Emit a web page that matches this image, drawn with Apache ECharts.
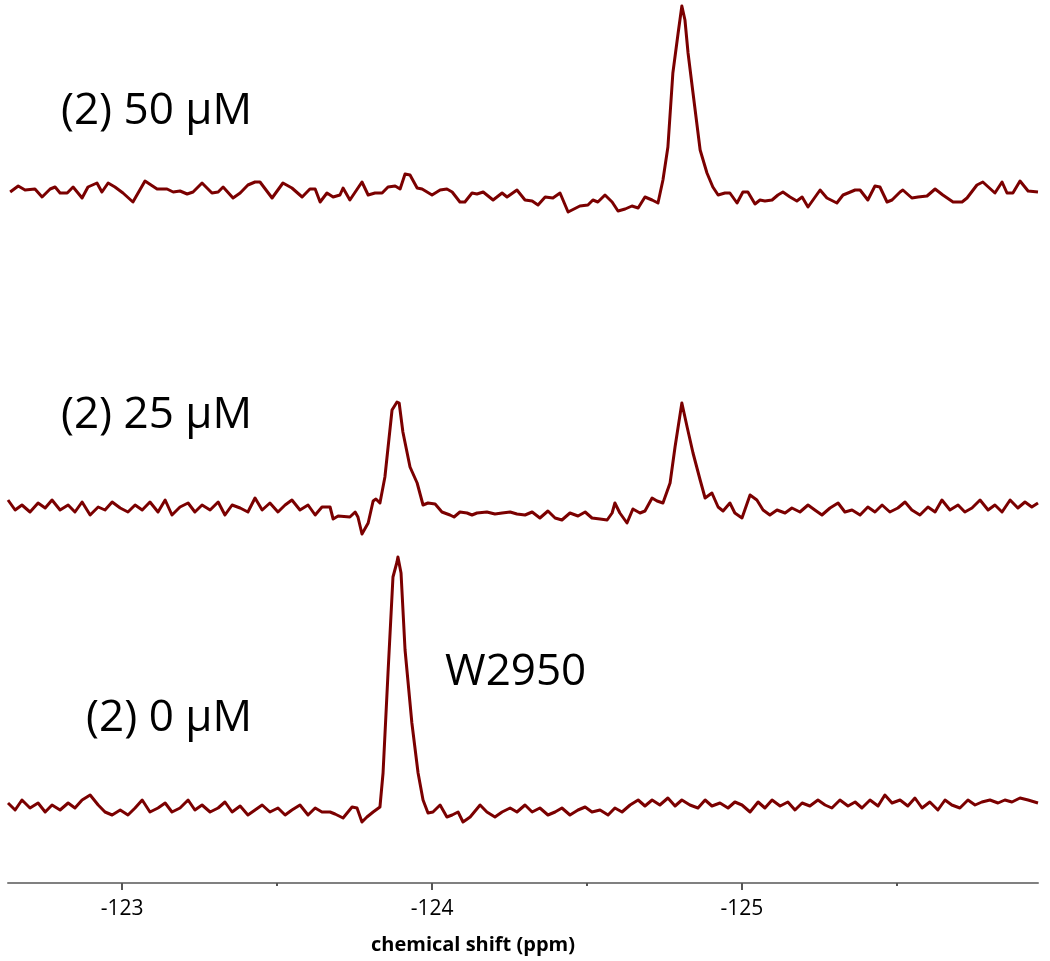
<!DOCTYPE html>
<html>
<head>
<meta charset="utf-8">
<script src="https://cdn.jsdelivr.net/npm/echarts@6/dist/echarts.min.js"></script>
<style>
html,body{margin:0;padding:0;background:#fff}
#chart{width:1050px;height:961px}
</style>
</head>
<body>
<div id="chart"></div>
<script>
// tick positions on the shift axis (ppm)
const majorTicks = [-123, -124, -125];
const minorTicks = [-123.5, -124.5, -125.5];

// 19F spectra, [shift ppm, intensity]
const spec50 = [[-122.639,0],[-122.665,6],[-122.687,2],[-122.719,3],[-122.742,-5],[-122.768,3],[-122.784,5],[-122.800,-1],[-122.823,-1],[-122.842,5],[-122.871,-6],[-122.890,5],[-122.919,9],[-122.935,0],[-122.955,9],[-122.977,5],[-123.003,-1],[-123.035,-10],[-123.074,11],[-123.113,3],[-123.145,3],[-123.165,0],[-123.187,1],[-123.210,-2],[-123.229,0],[-123.258,9],[-123.290,-1],[-123.310,0],[-123.326,5],[-123.358,-6],[-123.381,-1],[-123.406,7],[-123.429,10],[-123.445,10],[-123.484,-6],[-123.519,9],[-123.548,4],[-123.581,-5],[-123.606,3],[-123.623,3],[-123.639,-10],[-123.661,-1],[-123.681,-5],[-123.703,-3],[-123.713,4],[-123.735,-8],[-123.774,10],[-123.794,-3],[-123.816,-1],[-123.839,-1],[-123.858,5],[-123.881,6],[-123.897,3],[-123.913,18],[-123.929,17],[-123.952,4],[-123.968,3],[-124.000,-3],[-124.026,2],[-124.048,3],[-124.065,0],[-124.090,-10],[-124.106,-10],[-124.129,-1],[-124.145,-2],[-124.165,0],[-124.197,-8],[-124.226,-1],[-124.242,-5],[-124.274,2],[-124.300,-8],[-124.323,-9],[-124.342,-13],[-124.365,-5],[-124.390,-6],[-124.413,-1],[-124.439,-20],[-124.477,-14],[-124.503,-13],[-124.519,-8],[-124.535,-10],[-124.558,-3],[-124.581,-10],[-124.600,-19],[-124.623,-17],[-124.645,-14],[-124.665,-16],[-124.687,-5],[-124.710,-8],[-124.729,-11],[-124.745,12],[-124.761,45],[-124.777,119],[-124.794,159],[-124.806,186],[-124.816,172],[-124.826,139],[-124.842,99],[-124.865,42],[-124.887,19],[-124.906,5],[-124.923,-3],[-124.945,-1],[-124.961,-1],[-124.984,-11],[-125.003,0],[-125.019,0],[-125.042,-12],[-125.058,-8],[-125.074,-9],[-125.097,-8],[-125.116,-3],[-125.132,0],[-125.155,-5],[-125.177,-9],[-125.194,-5],[-125.213,-15],[-125.252,2],[-125.274,-6],[-125.306,-11],[-125.326,-3],[-125.342,-1],[-125.365,2],[-125.381,2],[-125.406,-8],[-125.429,6],[-125.445,5],[-125.468,-10],[-125.484,-8],[-125.510,0],[-125.519,2],[-125.548,-6],[-125.568,-5],[-125.597,-4],[-125.623,3],[-125.648,-3],[-125.681,-10],[-125.710,-10],[-125.726,-6],[-125.758,7],[-125.777,10],[-125.816,-1],[-125.839,10],[-125.855,-1],[-125.874,-1],[-125.897,11],[-125.923,1],[-125.955,0]];

const spec25 = [[-122.632,10],[-122.655,0],[-122.677,5],[-122.703,-2],[-122.729,7],[-122.752,2],[-122.774,10],[-122.800,0],[-122.826,5],[-122.848,-2],[-122.871,8],[-122.897,-5],[-122.923,3],[-122.945,0],[-122.968,8],[-122.994,2],[-123.019,-2],[-123.042,5],[-123.065,0],[-123.090,8],[-123.116,-2],[-123.139,10],[-123.161,-5],[-123.187,3],[-123.213,7],[-123.235,-2],[-123.258,5],[-123.284,0],[-123.310,8],[-123.332,-5],[-123.355,5],[-123.381,2],[-123.406,-2],[-123.429,12],[-123.452,0],[-123.477,7],[-123.503,-2],[-123.526,5],[-123.548,10],[-123.574,0],[-123.600,5],[-123.623,-5],[-123.645,3],[-123.671,3],[-123.681,-9],[-123.697,-6],[-123.735,-7],[-123.752,-2],[-123.761,-7],[-123.774,-24],[-123.794,-13],[-123.810,9],[-123.819,11],[-123.832,7],[-123.848,33],[-123.871,100],[-123.887,108],[-123.894,107],[-123.906,78],[-123.929,43],[-123.952,27],[-123.971,5],[-123.987,7],[-124.010,6],[-124.032,-2],[-124.058,-5],[-124.071,-7],[-124.090,-2],[-124.113,-3],[-124.129,-5],[-124.145,-3],[-124.177,-2],[-124.203,-4],[-124.226,-3],[-124.252,-2],[-124.274,-4],[-124.300,-5],[-124.323,-2],[-124.348,-8],[-124.374,-1],[-124.397,-8],[-124.419,-10],[-124.445,-3],[-124.471,-6],[-124.494,-2],[-124.516,-8],[-124.542,-9],[-124.565,-10],[-124.581,-3],[-124.590,7],[-124.606,-3],[-124.629,-13],[-124.648,1],[-124.671,-3],[-124.687,-1],[-124.710,12],[-124.726,9],[-124.745,7],[-124.768,27],[-124.784,63],[-124.806,107],[-124.823,83],[-124.842,57],[-124.865,30],[-124.881,12],[-124.903,17],[-124.923,3],[-124.939,-1],[-124.961,7],[-124.977,-3],[-125.000,-8],[-125.026,15],[-125.048,10],[-125.068,0],[-125.090,-5],[-125.113,0],[-125.139,-3],[-125.161,2],[-125.187,-2],[-125.213,5],[-125.235,0],[-125.258,-5],[-125.284,2],[-125.310,7],[-125.332,-2],[-125.355,0],[-125.381,-5],[-125.406,3],[-125.429,-2],[-125.452,5],[-125.477,-2],[-125.503,2],[-125.526,8],[-125.548,0],[-125.574,-5],[-125.600,3],[-125.623,-2],[-125.645,10],[-125.671,0],[-125.697,5],[-125.719,-2],[-125.742,2],[-125.768,10],[-125.794,0],[-125.816,5],[-125.839,-2],[-125.865,10],[-125.890,2],[-125.913,8],[-125.935,3],[-125.955,7]];

const spec0 = [[-122.632,9],[-122.655,2],[-122.677,12],[-122.703,4],[-122.729,9],[-122.752,0],[-122.774,7],[-122.800,2],[-122.826,9],[-122.848,4],[-122.871,12],[-122.897,17],[-122.923,7],[-122.945,0],[-122.968,-3],[-122.994,2],[-123.019,-3],[-123.042,4],[-123.065,12],[-123.090,0],[-123.116,4],[-123.139,9],[-123.161,0],[-123.187,4],[-123.213,12],[-123.235,2],[-123.258,7],[-123.284,0],[-123.310,4],[-123.332,10],[-123.355,0],[-123.381,6],[-123.406,-3],[-123.429,2],[-123.452,7],[-123.477,0],[-123.503,4],[-123.526,-3],[-123.548,2],[-123.574,7],[-123.600,-3],[-123.623,4],[-123.645,0],[-123.671,0],[-123.687,-2],[-123.713,-6],[-123.742,5],[-123.758,4],[-123.774,-10],[-123.790,-5],[-123.810,0],[-123.832,5],[-123.842,39],[-123.858,139],[-123.874,235],[-123.887,250],[-123.890,255],[-123.900,239],[-123.913,162],[-123.935,89],[-123.955,39],[-123.971,12],[-123.987,-1],[-124.003,0],[-124.026,7],[-124.048,-5],[-124.065,-3],[-124.084,0],[-124.100,-10],[-124.123,-5],[-124.155,7],[-124.177,0],[-124.203,-5],[-124.226,0],[-124.252,4],[-124.274,0],[-124.300,7],[-124.323,0],[-124.348,4],[-124.374,-3],[-124.397,0],[-124.419,4],[-124.445,-3],[-124.471,2],[-124.494,5],[-124.516,0],[-124.542,2],[-124.568,-3],[-124.590,4],[-124.613,0],[-124.639,7],[-124.665,12],[-124.687,6],[-124.710,12],[-124.735,7],[-124.761,14],[-124.784,6],[-124.806,12],[-124.832,7],[-124.858,4],[-124.881,12],[-124.903,6],[-124.929,9],[-124.955,4],[-124.977,10],[-125.000,7],[-125.026,0],[-125.052,10],[-125.074,4],[-125.097,12],[-125.123,6],[-125.148,10],[-125.171,2],[-125.194,9],[-125.219,6],[-125.245,12],[-125.268,7],[-125.290,4],[-125.316,12],[-125.342,6],[-125.365,10],[-125.387,4],[-125.413,12],[-125.439,6],[-125.461,17],[-125.484,9],[-125.510,12],[-125.535,6],[-125.558,14],[-125.581,4],[-125.606,10],[-125.632,2],[-125.655,12],[-125.677,7],[-125.703,4],[-125.729,12],[-125.752,7],[-125.774,10],[-125.800,12],[-125.826,9],[-125.848,12],[-125.871,10],[-125.897,14],[-125.923,12],[-125.955,9]];

const traceNames = ['(2) 50 µM', '(2) 25 µM', '(2) 0 µM'];
const peakLabel = 'W2950';

const lineColor = '#7b0000';
const xMin = -125.955, xMax = -122.632;

const chart = echarts.init(document.getElementById('chart'));

function hiddenX(grid) {
    return {
        type: 'value', gridIndex: grid, min: xMin, max: xMax, inverse: true,
        show: false
    };
}

const option = {
    animation: false,
    backgroundColor: '#ffffff',
    grid: [
        {left: 8, right: 12, top: 0, height: 240},
        {left: 8, right: 12, top: 380, height: 160},
        {left: 8, right: 12, top: 540, height: 343}
    ],
    xAxis: [
        hiddenX(0),
        hiddenX(1),
        {
            type: 'value', gridIndex: 2, min: xMin, max: xMax, inverse: true,
            position: 'bottom',
            name: 'chemical shift (ppm)',
            nameLocation: 'middle',
            nameGap: 52,
            nameTextStyle: {
                fontFamily: 'Open Sans', fontWeight: 'bold', fontSize: 20, color: '#000',
                padding: [0, 100, 0, 0]
            },
            axisLine: {onZero: false, lineStyle: {color: '#808080', width: 2}},
            axisTick: {show: true, customValues: majorTicks, length: 7, lineStyle: {color: '#555', width: 2}},
            axisLabel: {
                customValues: majorTicks, margin: 16,
                fontFamily: 'Open Sans', fontSize: 21, color: '#000'
            },
            splitLine: {show: false}
        },
        {
            // minor ticks
            type: 'value', gridIndex: 2, min: xMin, max: xMax, inverse: true,
            position: 'bottom',
            axisLine: {show: false, onZero: false},
            axisTick: {show: true, customValues: minorTicks, length: 3, lineStyle: {color: '#555', width: 2}},
            axisLabel: {show: false},
            splitLine: {show: false}
        }
    ],
    yAxis: [
        {type: 'value', gridIndex: 0, min: -48, max: 192, show: false},
        {type: 'value', gridIndex: 1, min: -30, max: 130, show: false},
        {type: 'value', gridIndex: 2, min: -71, max: 272, show: false}
    ],
    series: [
        {name: traceNames[0], type: 'line', xAxisIndex: 0, yAxisIndex: 0, data: spec50},
        {name: traceNames[1], type: 'line', xAxisIndex: 1, yAxisIndex: 1, data: spec25},
        {name: traceNames[2], type: 'line', xAxisIndex: 2, yAxisIndex: 2, data: spec0}
    ].map(s => Object.assign(s, {
        symbol: 'none', clip: false,
        lineStyle: {color: lineColor, width: 3, join: 'round'}
    })),
    graphic: [
        {type: 'text', x: 252, y: 111, style: {text: traceNames[0], font: '44px "Open Sans"', fill: '#000', align: 'right', verticalAlign: 'middle'}},
        {type: 'text', x: 252, y: 415, style: {text: traceNames[1], font: '44px "Open Sans"', fill: '#000', align: 'right', verticalAlign: 'middle'}},
        {type: 'text', x: 252, y: 718, style: {text: traceNames[2], font: '44px "Open Sans"', fill: '#000', align: 'right', verticalAlign: 'middle'}},
        {type: 'text', x: 445, y: 672, style: {text: peakLabel, font: '44px "Open Sans"', fill: '#000', align: 'left', verticalAlign: 'middle'}}
    ]
};
chart.setOption(option);
window.addEventListener('resize', function () {
    chart.resize();
});
</script>
</body>
</html>
